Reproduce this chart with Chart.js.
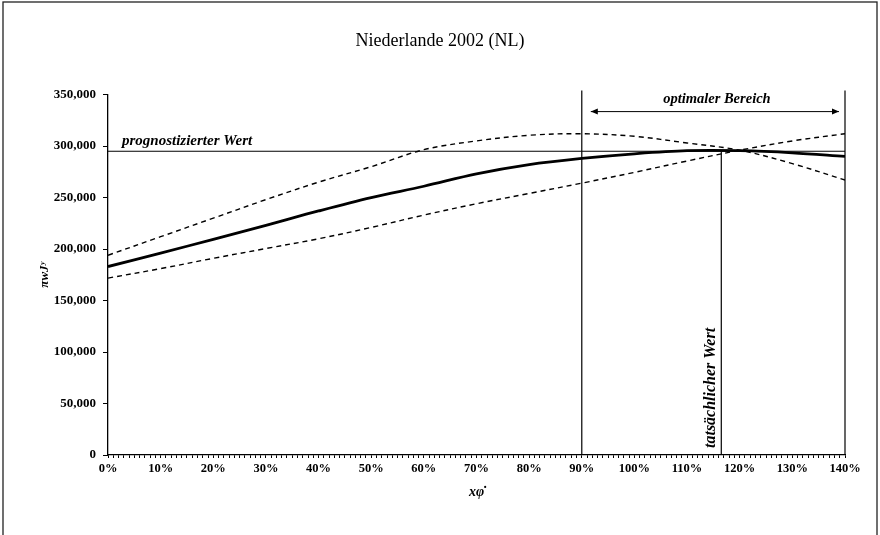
<!DOCTYPE html>
<html>
<head>
<meta charset="utf-8">
<script src="https://cdn.jsdelivr.net/npm/chart.js@4.4.1/dist/chart.umd.min.js"></script>
<style>
  html, body { margin: 0; padding: 0; background: #fff; }
  #wrap { width: 880px; height: 535px; }
</style>
</head>
<body>
<div id="wrap"><canvas id="c" width="880" height="535"></canvas></div>
<script>
// ---- data ----
const xPercent   = [0, 10, 20, 30, 40, 50, 60, 70, 80, 90, 100, 110, 120, 130, 140];
const mainSeries = [183000, 196000, 209500, 223000, 237000, 250000, 261000, 273000, 282000, 288000, 292500, 295500, 295500, 293500, 290000];
const upperBand  = [194000, 212000, 230000, 248000, 265000, 280000, 296500, 305000, 310500, 312000, 309500, 303000, 296000, 283000, 267000];
const lowerBand  = [171800, 181000, 191000, 200500, 210000, 221000, 233000, 244000, 254000, 264000, 274500, 285500, 296000, 305000, 312000];
const yTicks     = [0, 50000, 100000, 150000, 200000, 250000, 300000, 350000];
const predictedValue = [295000];      // "prognostizierter Wert"
const actualX        = [116.5];       // "tatsächlicher Wert"
const optimalRange   = [90, 140];     // "optimaler Bereich"

const toPts = arr => arr.map((v, i) => ({ x: xPercent[i], y: v }));
const SERIF = '"Liberation Serif", "Times New Roman", serif';

const annotations = {
  id: 'annotations',
  afterDatasetsDraw(chart) {
    const { ctx, chartArea, scales } = chart;
    const xs = scales.x, ys = scales.y;
    ctx.save();
    ctx.strokeStyle = '#000';
    ctx.fillStyle = '#000';
    ctx.lineWidth = 1.2;
    // predicted value horizontal line
    const yp = ys.getPixelForValue(predictedValue[0]);
    ctx.beginPath();
    ctx.moveTo(xs.getPixelForValue(0), yp);
    ctx.lineTo(xs.getPixelForValue(140), yp);
    ctx.stroke();
    ctx.font = 'italic bold 15px ' + SERIF;
    ctx.textAlign = 'left';
    ctx.textBaseline = 'alphabetic';
    ctx.fillText('prognostizierter Wert', xs.getPixelForValue(0) + 14, yp - 6);
    // optimal range vertical lines
    const y0 = ys.getPixelForValue(0);
    optimalRange.forEach(v => {
      const px = xs.getPixelForValue(v);
      ctx.beginPath();
      ctx.moveTo(px, y0);
      ctx.lineTo(px, chartArea.top - 4);
      ctx.stroke();
    });
    // arrow
    const xa = xs.getPixelForValue(optimalRange[0]) + 9;
    const xb = xs.getPixelForValue(optimalRange[1]) - 6;
    const ya = chartArea.top + 17;
    ctx.lineWidth = 1;
    ctx.beginPath();
    ctx.moveTo(xa, ya); ctx.lineTo(xb, ya); ctx.stroke();
    ctx.beginPath();
    ctx.moveTo(xa, ya); ctx.lineTo(xa + 7, ya - 3); ctx.lineTo(xa + 7, ya + 3); ctx.closePath(); ctx.fill();
    ctx.beginPath();
    ctx.moveTo(xb, ya); ctx.lineTo(xb - 7, ya - 3); ctx.lineTo(xb - 7, ya + 3); ctx.closePath(); ctx.fill();
    ctx.textAlign = 'center';
    ctx.font = 'italic bold 14.5px ' + SERIF;
    ctx.fillText('optimaler Bereich', (xa + xb) / 2 + 2, chartArea.top + 8);
    // actual value vertical line
    const xr = xs.getPixelForValue(actualX[0]);
    ctx.lineWidth = 1.2;
    ctx.beginPath();
    ctx.moveTo(xr, yp);
    ctx.lineTo(xr, y0);
    ctx.stroke();
    ctx.save();
    ctx.translate(xr - 6, y0 - 7);
    ctx.rotate(-Math.PI / 2);
    ctx.textAlign = 'left';
    ctx.font = 'italic bold 16px ' + SERIF;
    ctx.fillText('tatsächlicher Wert', 0, 0);
    ctx.restore();
    ctx.restore();
  }
};

const frame = {
  id: 'frame',
  afterDraw(chart) {
    const { ctx } = chart;
    ctx.save();
    ctx.strokeStyle = '#222';
    ctx.lineWidth = 1.3;
    ctx.strokeRect(3, 2, 874, 545);
    ctx.restore();
  }
};

new Chart(document.getElementById('c'), {
  type: 'line',
  data: {
    datasets: [
      { data: toPts(mainSeries), borderColor: '#000', borderWidth: 2.8, pointRadius: 0, tension: 0.35, fill: false },
      { data: toPts(upperBand), borderColor: '#000', borderWidth: 1.4, borderDash: [5, 4], pointRadius: 0, tension: 0.35, fill: false },
      { data: toPts(lowerBand), borderColor: '#000', borderWidth: 1.4, borderDash: [5, 4], pointRadius: 0, tension: 0.35, fill: false }
    ]
  },
  options: {
    responsive: false,
    animation: false,
    layout: { padding: { left: 0, right: 0, top: 0, bottom: 0 } },
    plugins: {
      legend: { display: false },
      tooltip: { enabled: false },
      title: {
        display: true,
        text: 'Niederlande 2002 (NL)',
        color: '#000',
        font: { family: SERIF, size: 18, weight: 'normal' },
        padding: { top: 30, bottom: 43 }
      }
    },
    scales: {
      x: {
        type: 'linear',
        min: 0, max: 140,
        afterFit: s => { s.height = 80; },
        border: { display: true, color: '#000', width: 1.3 },
        grid: { drawOnChartArea: false, drawTicks: true, tickLength: 3, color: '#000', lineWidth: 1 },
        ticks: {
          stepSize: 1, autoSkip: false, maxRotation: 0, minRotation: 0,
          padding: 3, color: '#000',
          font: { family: SERIF, size: 12.5, weight: 'bold' },
          callback: v => (v % 10 === 0 ? v + '%' : '')
        },
        title: {
          display: true, text: 'xφ̇', color: '#000',
          font: { family: SERIF, size: 14, weight: 'bold', style: 'italic' },
          padding: { top: 0, bottom: 34 }
        }
      },
      y: {
        type: 'linear',
        min: 0, max: 350000,
        afterFit: s => { s.width = 108; },
        afterBuildTicks: s => { s.ticks = yTicks.map(v => ({ value: v })); },
        border: { display: true, color: '#000', width: 1.3 },
        grid: { drawOnChartArea: false, drawTicks: true, tickLength: 5, color: '#000' },
        ticks: {
          padding: 7, color: '#000',
          font: { family: SERIF, size: 13, weight: 'bold' },
          callback: v => v.toLocaleString('en-US')
        },
        title: {
          display: true, text: 'πwJʸ', color: '#000',
          font: { family: SERIF, size: 13, weight: 'bold', style: 'italic' },
          padding: { top: 37, bottom: 0 }
        }
      },
      yRight: {
        type: 'linear',
        position: 'right',
        display: true,
        afterFit: s => { s.width = 35; },
        border: { display: false },
        grid: { display: false },
        ticks: { display: false }
      }
    }
  },
  plugins: [annotations, frame]
});
</script>
</body>
</html>
